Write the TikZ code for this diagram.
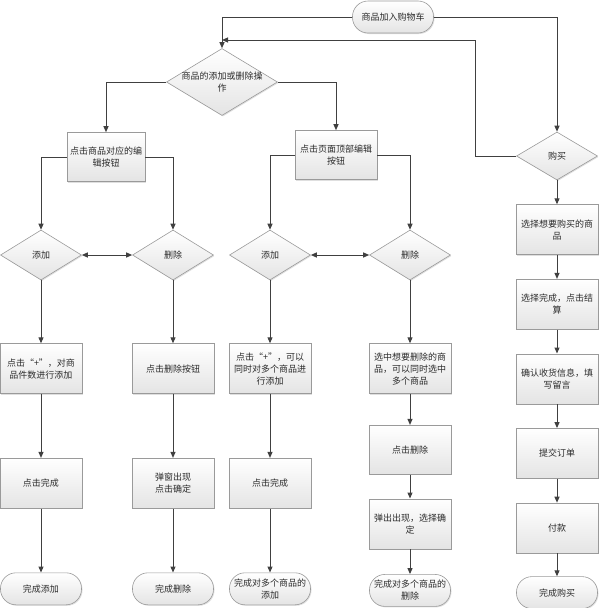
\documentclass[tikz,border=0pt]{standalone}
\usepackage{fontspec}
\setmainfont{Noto Sans CJK SC}
\usepackage{xcolor}
\usepackage{tikz}
\usetikzlibrary{arrows.meta,positioning,shapes.geometric,shadows}
\definecolor{edgegray}{HTML}{404040}
\definecolor{framegray}{HTML}{9A9A9A}
\definecolor{fillgray}{HTML}{E4E4E4}
\definecolor{inkgray}{HTML}{2B2B2B}
\tikzset{
  base/.style={draw=framegray, line width=.6pt, top color=white, bottom color=fillgray, align=center, inner sep=2pt, font=\fontsize{9}{12}\selectfont, text=inkgray, drop shadow={opacity=.25, shadow xshift=1pt, shadow yshift=-1pt}},
  proc/.style={base, rectangle, minimum width=82pt, minimum height=50pt},
  term/.style={base, rectangle, rounded corners=15.5pt, minimum width=81pt, minimum height=32pt},
  dec/.style={base, diamond, inner sep=0pt, minimum width=81pt, minimum height=50pt},
  ar/.style={-{Triangle[length=6pt, width=5pt]}, line width=1pt, draw=edgegray},
  dar/.style={{Triangle[length=6pt, width=5pt]}-{Triangle[length=6pt, width=5pt]}, line width=1pt, draw=edgegray},
  txt/.style={align=center, inner sep=0pt, font=\fontsize{9}{12}\selectfont, text=inkgray},
}

\begin{document}
\begin{tikzpicture}[x=1pt, y=-1pt]
    \useasboundingbox (0,0) rectangle (600,608);
    \node[term] (start) at (393,17) {商品加入购物车};
    \node[dec, minimum width=111pt, minimum height=67pt] (edit) at (222,82) {};
    \node[txt] (editlbl) at (edit) {商品的添加或删除操\\作};
    \node[dec, minimum height=48pt] (buy) at (557,156) {购买};

    \node[proc, minimum width=78pt, minimum height=49pt] (item) at (106,157) {点击商品对应的编\\辑按钮};
    \node[proc, minimum height=49pt] (page) at (336,155) {点击页面顶部编辑\\按钮};

    \node[dec] (add1) at (41,255) {添加};
    \node[dec] (del1) at (173,255) {删除};
    \node[dec] (add2) at (270,255) {添加};
    \node[dec] (del2) at (410,255) {删除};

    \node[proc, below=63pt of add1] (add1a) {点击“+”，对商\\品件数进行添加};
    \node[proc, below=64pt of add1a] (add1b) {点击完成};
    \node[term, below=64pt of add1b] (add1c) {完成添加};

    \node[proc, below=63pt of del1] (del1a) {点击删除按钮};
    \node[proc, below=64pt of del1a] (del1b) {弹窗出现\\点击确定};
    \node[term, below=64pt of del1b] (del1c) {完成删除};

    \node[proc, below=63pt of add2] (add2a) {点击“+”，可以\\同时对多个商品进\\行添加};
    \node[proc, below=64pt of add2a] (add2b) {点击完成};
    \node[term, below=64pt of add2b] (add2c) {完成对多个商品的\\添加};

    \node[proc, below=63pt of del2] (del2a) {选中想要删除的商\\品，可以同时选中\\多个商品};
    \node[proc, minimum height=49pt, below=31pt of del2a] (del2b) {点击删除};
    \node[proc, below=24pt of del2b] (del2c) {弹出出现，选择确\\定};
    \node[term, below=25pt of del2c] (del2d) {完成对多个商品的\\删除};

    \node[proc, below=24pt of buy] (buy1) {选择想要购买的商\\品};
    \node[proc, below=24pt of buy1] (buy2) {选择完成，点击结\\算};
    \node[proc, below=24pt of buy2] (buy3) {确认收货信息，填\\写留言};
    \node[proc, below=24pt of buy3] (buy4) {提交订单};
    \node[proc, below=24pt of buy4] (buy5) {付款};
    \node[term, below=23pt of buy5] (done) {完成购买};

    \coordinate (turn) at (475,40);
    \coordinate (back) at (222,40);
    \draw[ar] (start.west) -| (edit.north);
    \draw[ar] (start.east) -| (buy.north);
    \draw[ar] (buy.west) -| (turn) -- (back);
    \draw[ar] (edit.west) -| (item.north);
    \draw[ar] (edit.east) -| (page.north);
    \draw[ar] (item.west) -| (add1.north);
    \draw[ar] (item.east) -| (del1.north);
    \draw[ar] (page.west) -| (add2.north);
    \draw[ar] (page.east) -| (del2.north);
    \draw[dar] (add1) -- (del1);
    \draw[dar] (add2) -- (del2);
    \foreach \a/\b in {add1/add1a, add1a/add1b, add1b/add1c, del1/del1a, del1a/del1b, del1b/del1c, add2/add2a, add2a/add2b, add2b/add2c, del2/del2a, del2a/del2b, del2b/del2c, del2c/del2d, buy/buy1, buy1/buy2, buy2/buy3, buy3/buy4, buy4/buy5, buy5/done}{\draw[ar] (\a)--(\b);}
  \end{tikzpicture}
\end{document}
